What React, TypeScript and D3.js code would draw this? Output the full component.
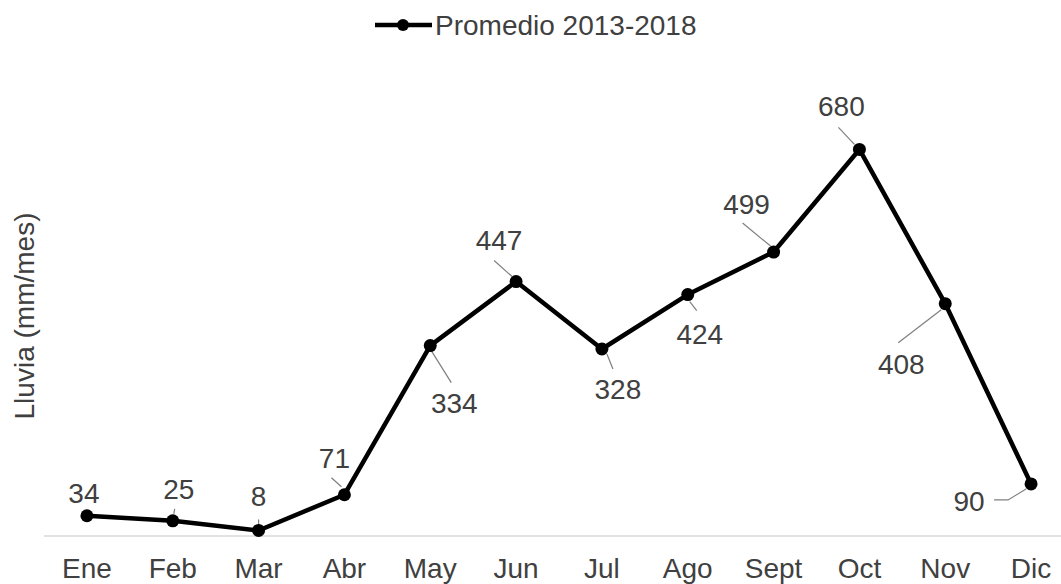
import React from "react";
import * as d3 from "d3";

const months = ["Ene", "Feb", "Mar", "Abr", "May", "Jun", "Jul", "Ago", "Sept", "Oct", "Nov", "Dic"];
const rainfall = [34, 25, 8, 71, 334, 447, 328, 424, 499, 680, 408, 90];
const seriesName = "Promedio 2013-2018";
const yTitle = "Lluvia (mm/mes)";

// label placement relative to each point: [dx, dy] of label (center x, baseline y)
const labelOffsets: [number, number][] = [
  [-3, -13], [6, -22], [0, -24], [-10, -27], [24, 67], [-17, -32],
  [16, 50], [12, 49], [-27, -38], [-18, -33], [-44, 70], [-62, 27],
];
// leader lines relative to each point (polyline)
const leaders: [number, number][][] = [
  [],
  [[1, -7], [2, -12]],
  [[0, -6], [0, -11]],
  [[-13, -17], [-3, -8]],
  [[1, 5], [21, 37]],
  [[-22, -21], [-4, -5]],
  [[5, 5], [11, 20]],
  [[2, 7], [9, 16]],
  [[-31, -29], [-3, -6]],
  [[-21, -22], [-5, -5]],
  [[-47, 39], [-4, 6]],
  [[-37, 16], [-23, 16], [-5, 5]],
];

const W = 1061;
const H = 584;
const FONT = "'Liberation Sans', Arial, sans-serif";
const TEXT = "#404040";

export default function App() {
  const x = d3.scaleBand<string>().domain(months).range([44, 1074]);
  const y = d3.scaleLinear().domain([0, 800]).range([535, 81.4]);
  const cx = (m: string) => (x(m) ?? 0) + x.bandwidth() / 2;
  const line = d3
    .line<number>()
    .x((_, i) => cx(months[i]))
    .y((d) => y(d));

  return (
    <svg
      width={W}
      height={H}
      style={{ position: "absolute", left: 0, top: 0, background: "#fff" }}
      fontFamily={FONT}
    >
      <rect width={W} height={H} fill="#fff" />
      {/* axis baseline */}
      <line x1={44} x2={1074} y1={536} y2={536} stroke="#d9d9d9" strokeWidth={1.5} />
      {/* x tick labels */}
      {months.map((m) => (
        <text key={m} x={cx(m)} y={578} textAnchor="middle" fontSize={28} fill={TEXT}>
          {m}
        </text>
      ))}
      {/* y title */}
      <text
        transform={`translate(34,316) rotate(-90)`}
        textAnchor="middle"
        fontSize={28}
        fill={TEXT}
      >
        {yTitle}
      </text>
      {/* leader lines */}
      {rainfall.map((v, i) => {
        const pts = leaders[i];
        if (!pts.length) return null;
        const px = cx(months[i]);
        const py = y(v);
        return (
          <polyline
            key={"l" + i}
            points={pts.map(([dx, dy]) => `${px + dx},${py + dy}`).join(" ")}
            fill="none"
            stroke="#7f7f7f"
            strokeWidth={1.2}
          />
        );
      })}
      {/* series line */}
      <path d={line(rainfall) ?? ""} fill="none" stroke="#000" strokeWidth={4.5} strokeLinejoin="round" />
      {rainfall.map((v, i) => (
        <circle key={"c" + i} cx={cx(months[i])} cy={y(v)} r={6.5} fill="#000" />
      ))}
      {/* data labels */}
      {rainfall.map((v, i) => (
        <text
          key={"t" + i}
          x={cx(months[i]) + labelOffsets[i][0]}
          y={y(v) + labelOffsets[i][1]}
          textAnchor="middle"
          fontSize={28}
          fill={TEXT}
        >
          {v}
        </text>
      ))}
      {/* legend */}
      <line x1={375} x2={432} y1={25} y2={25} stroke="#000" strokeWidth={4.5} />
      <circle cx={403} cy={25} r={6} fill="#000" />
      <text x={435} y={35} fontSize={28} fill={TEXT}>
        {seriesName}
      </text>
    </svg>
  );
}
